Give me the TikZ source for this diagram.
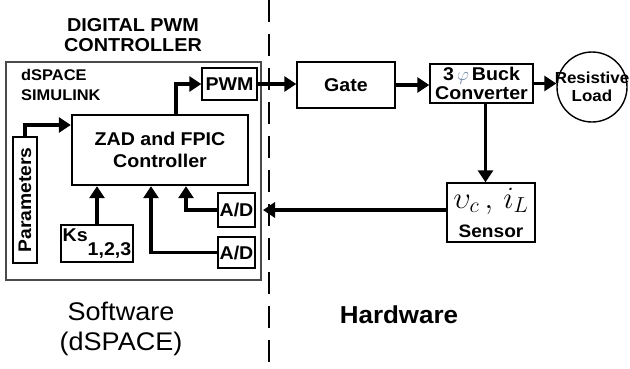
\RequirePackage{fix-cm}
\documentclass[tikz,border=0pt]{standalone}
\usepackage{amsmath,graphicx}
\usepackage{fontspec}
\setmainfont[FakeStretch=1.06]{Liberation Sans}
\usepackage{tikz}
\usetikzlibrary{arrows.meta,calc,positioning}
\definecolor{dsp-frame}{HTML}{4A4A4A}
\definecolor{phi-blue}{HTML}{7088A8}
\newcommand{\pxsize}[1]{\fontsize{#1}{#1}\selectfont}

\begin{document}
\begin{tikzpicture}[x=1pt,y=-1pt,
  blk/.style={draw,line width=1.4pt,fill=white,inner sep=0pt,align=center,font=\bfseries\pxsize{18.5}},
  flow/.style={-{Triangle[length=12pt,width=15pt]},line width=3.8pt}]
  \useasboundingbox (0,0) rectangle (630,368);

  % Ramme og skillelinje
  \draw[dsp-frame,line width=2.8pt] (6,62) rectangle (261,280);
  \draw[line width=2.6pt,dash pattern=on 22pt off 12pt] (269,0) -- (269,368);

  % Tekster
  \node[font=\bfseries\fontsize{18.7}{20}\selectfont,align=center] (title) at (133,35) {DIGITAL PWM\\CONTROLLER};
  \node[font=\bfseries\fontsize{15.5}{20}\selectfont,align=left,anchor=west,inner sep=0pt] (sim) at (21,85) {dSPACE\\SIMULINK};
  \node[font=\fontsize{25.5}{30}\selectfont,align=center] (sw) at (121,329) {Software\\(dSPACE)};
  \node[font=\bfseries\fontsize{24.5}{26}\selectfont] (hw) at (399,315) {Hardware};

  % Software-blokke
  \node[blk,minimum width=55pt,minimum height=32pt] (pwm) at (229.5,84) {PWM};
  \node[blk,line width=2.4pt,minimum width=176pt,minimum height=70pt,font=\bfseries\fontsize{18.5}{22}\selectfont] (zad) at (160,150) {ZAD and FPIC\\Controller};
  \node[blk,minimum width=24pt,minimum height=126pt,font=\bfseries\pxsize{18.2}] (par) at (25,200) {\rotatebox{90}{Parameters}};
  \node[blk,minimum width=72pt,minimum height=37pt] (ks) at (97,243.5) {Ks\raisebox{-14pt}{1,2,3}};
  \node[blk,minimum width=37pt,minimum height=34pt] (ad1) at (236.5,210) {A/D};
  \node[blk,minimum width=37pt,minimum height=31pt] (ad2) at (236.5,252.5) {A/D};

  % Hardware-blokke
  \node[blk,minimum width=98pt,minimum height=46pt] (gate) at (346,85) {Gate};
  \node[blk,minimum width=103pt,minimum height=39pt,font=\bfseries\fontsize{18.5}{19}\selectfont] (buck) at (481.5,83.5) {3\,{\color{phi-blue}$\varphi$}\,Buck\\Converter};
  \node[draw,circle,line width=1.4pt,minimum size=70pt,inner sep=0pt] (load) at (592,87) {};
  \node[font=\bfseries\fontsize{16}{17.5}\selectfont,align=center] (loadtxt) at (load) {Resistive\\Load};
  \node[blk,minimum width=88pt,minimum height=59pt,font=\bfseries\fontsize{18}{29}\selectfont] (sensor) at (491,212.5) {{\fontsize{31}{32}\selectfont$\upsilon_c\,,\,i_L$}\\Sensor};
  \coordinate (adin) at (263,210);

  % Pile
  \draw[flow] (par.north) |- ([yshift=25pt]zad.west);
  \draw[flow] ([xshift=16pt]zad.north) |- (pwm.west);
  \draw[flow] (ks.north) -- (ks.north |- zad.south);
  \draw[flow] (ad1.west) -| ([xshift=26pt]zad.south);
  \draw[flow] (ad2.west) -| ([xshift=-9pt]zad.south);
  \draw[flow] (pwm.east) -- (gate.west |- pwm.east);
  \draw[flow] (gate.east) -- (buck.west |- gate.east);
  \draw[flow] (buck.east) -- (load.west |- buck.east);
  \draw[flow] ([xshift=4pt]buck.south) -- ([xshift=4pt]buck.south |- sensor.north);
  \draw[flow] (sensor.west |- ad1) -- (adin);
\end{tikzpicture}
\end{document}
